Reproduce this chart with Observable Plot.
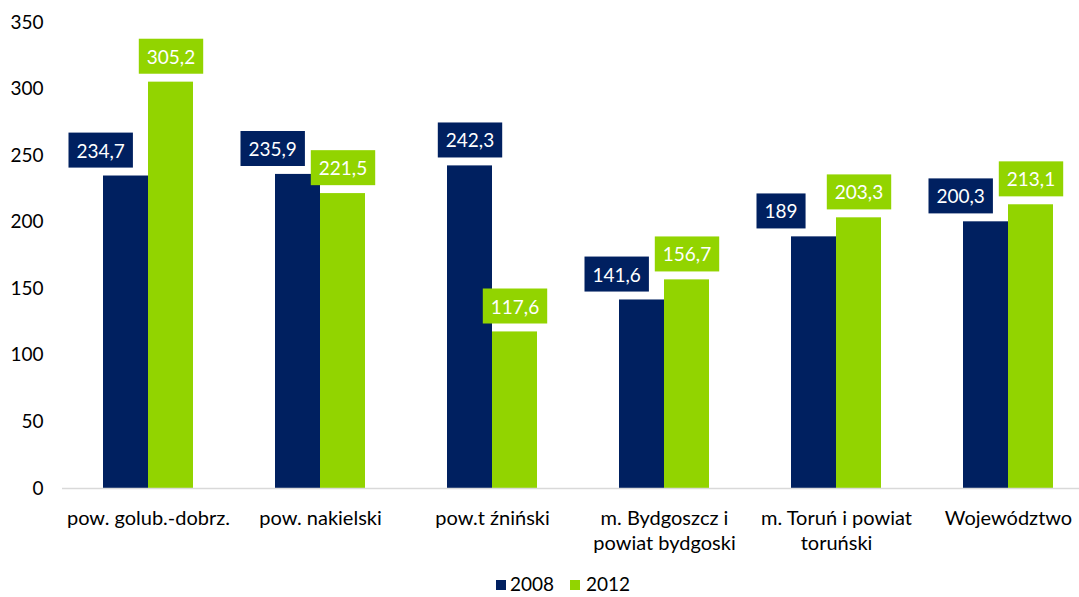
<!DOCTYPE html>
<html>
<head>
<meta charset="utf-8">
<script src="https://cdn.jsdelivr.net/npm/d3@7"></script>
<script src="https://cdn.jsdelivr.net/npm/@observablehq/plot@0.6"></script>
<style>
  body { margin: 0; background: #fff; }
  #wrap { position: relative; width: 1079px; height: 597px; overflow: hidden; font-family: Lato, "Open Sans", sans-serif; }
  #wrap svg { display: block; }
  .sq { position: absolute; width: 10px; height: 10px; }
  .lt { position: absolute; font-size: 19px; line-height: 19px; color: #000; }
</style>
</head>
<body>
<div id="wrap"></div>
<script>
const categories = ["pow. golub.-dobrz.", "pow. nakielski", "pow.t źniński", "m. Bydgoszcz i powiat bydgoski", "m. Toruń i powiat toruński", "Województwo"];
const tickLabels = ["pow. golub.-dobrz.", "pow. nakielski", "pow.t źniński", "m. Bydgoszcz i\npowiat bydgoski", "m. Toruń i powiat\ntoruński", "Województwo"];
const seriesNames = ["2008", "2012"];
const values2008 = [234.7, 235.9, 242.3, 141.6, 189, 200.3];
const values2012 = [305.2, 221.5, 117.6, 156.7, 203.3, 213.1];
const yTicks = [0, 50, 100, 150, 200, 250, 300, 350];
const colors = ["#002060", "#92d400"];

const fmt = v => String(v).replace(".", ",");
const rows2008 = categories.map((c, i) => ({category: c, value: values2008[i], label: fmt(values2008[i]), shifted: values2012[i] > values2008[i] - 26}));
const rows2012 = categories.map((c, i) => ({category: c, value: values2012[i], label: fmt(values2012[i])}));
const tickLabelOf = new Map(categories.map((c, i) => [c, tickLabels[i]]));

const chart = Plot.plot({
  width: 1079,
  height: 574,
  marginLeft: 62,
  marginRight: 0,
  marginTop: 22,
  marginBottom: 86,
  style: {fontFamily: "Lato, 'Open Sans', sans-serif", fontSize: "19px", color: "#000", background: "#fff"},
  x: {domain: categories, range: [62, 1094], padding: 0, axis: null},
  y: {domain: [0, 350], ticks: yTicks},
  marks: [
    Plot.barY(rows2008, {x: "category", y: "value", fill: colors[0], insetLeft: 41, insetRight: 86}),
    Plot.barY(rows2012, {x: "category", y: "value", fill: colors[1], insetLeft: 86, insetRight: 41}),
    Plot.ruleY([0], {stroke: "#d9d9d9", strokeWidth: 1.5}),
    Plot.text(rows2008.filter(d => d.shifted), {x: "category", y: "value", text: "label", fill: "white", textAnchor: "start", lineAnchor: "middle", dx: -72, dy: -24.5, fontSize: 19, ariaLabel: () => "box2008"}),
    Plot.text(rows2008.filter(d => !d.shifted), {x: "category", y: "value", text: "label", fill: "white", lineAnchor: "middle", dx: -22.5, dy: -24.5, fontSize: 19, ariaLabel: () => "box2008"}),
    Plot.text(rows2012, {x: "category", y: "value", text: "label", fill: "white", lineAnchor: "middle", dx: 22.5, dy: -24.5, fontSize: 19, ariaLabel: () => "box2012"}),
    Plot.text(categories, {x: d => d, text: d => tickLabelOf.get(d), frameAnchor: "bottom", lineAnchor: "top", dy: 19, lineHeight: 1.25, fontSize: 20, fill: "#000"}),
    Plot.axisY({ticks: yTicks, tickSize: 0, tickPadding: 19, label: null, fontSize: 19})
  ]
});

const wrap = document.getElementById("wrap");
wrap.append(chart);

// draw label boxes behind the value texts
const ns = "http://www.w3.org/2000/svg";
const pad = 8;
chart.querySelectorAll('text[aria-label^="box"]').forEach(t => {
  const fill = t.getAttribute("aria-label") === "box2008" ? colors[0] : colors[1];
  const b = t.getBBox();
  const r = document.createElementNS(ns, "rect");
  r.setAttribute("x", b.x - pad);
  r.setAttribute("width", b.width + 2 * pad);
  r.setAttribute("y", b.y + b.height / 2 - 17.5);
  r.setAttribute("height", 35);
  r.setAttribute("fill", fill);
  if (t.getAttribute("transform")) r.setAttribute("transform", t.getAttribute("transform"));
  t.parentNode.insertBefore(r, t);
});

// legend
const legendPos = [{sq: 496, tx: 510}, {sq: 570, tx: 586}];
seriesNames.forEach((s, i) => {
  const sq = document.createElement("div");
  sq.className = "sq";
  sq.style.left = legendPos[i].sq + "px";
  sq.style.top = "580px";
  sq.style.background = colors[i];
  const t = document.createElement("div");
  t.className = "lt";
  t.style.left = legendPos[i].tx + "px";
  t.style.top = "574px";
  t.textContent = s;
  wrap.append(sq, t);
});
</script>
</body>
</html>
